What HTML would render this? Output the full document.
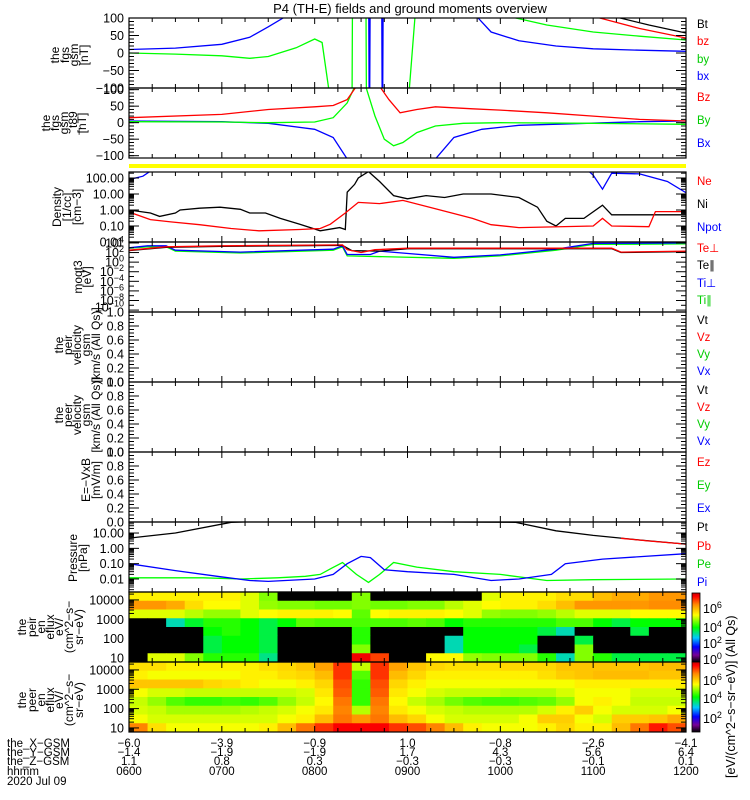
<!DOCTYPE html>
<html><head><meta charset="utf-8">
<style>
html,body{margin:0;padding:0;background:#fff;}
svg{display:block;font-family:"Liberation Sans",sans-serif;}
</style></head>
<body>
<svg id="chart" width="750" height="800" viewBox="0 0 750 800" xmlns="http://www.w3.org/2000/svg">
<defs>
<linearGradient id="cbar" x1="0" y1="1" x2="0" y2="0">
<stop offset="0" stop-color="#000000"/><stop offset="0.1" stop-color="#780096"/>
<stop offset="0.22" stop-color="#0000ff"/><stop offset="0.35" stop-color="#00c8ff"/>
<stop offset="0.5" stop-color="#00ff00"/><stop offset="0.68" stop-color="#ffff00"/>
<stop offset="0.83" stop-color="#ff8c00"/><stop offset="0.95" stop-color="#ff0000"/>
<stop offset="1" stop-color="#c80000"/></linearGradient>
</defs>
<text x="410" y="13" font-size="13" text-anchor="middle">P4 (TH-E) fields and ground moments overview</text>
</svg>
<script>
// ---------- data ----------
const fgsBxT=[6,6.5,7,7.3,7.5,7.66,7.8,8.58,8.59,8.6,8.72,8.73,8.74,9.6,9.76,9.9,10.2,10.6,11,11.5,12];
const fgsBxV=[10,14,25,45,75,100,300,300,-300,300,300,-300,300,300,100,60,35,20,12,8,5];
const fgsByT=[6,6.5,7,7.3,7.5,7.8,8.0,8.08,8.15,8.2,8.4,8.41,8.55,8.56,8.9,9.02,9.08,9.2,9.4,9.55,10,10.5,11,11.5,12];
const fgsByV=[0,-3,-8,-15,-10,15,40,30,-100,-300,-300,300,300,-300,-300,-100,100,300,300,140,110,80,60,48,37];
const fgsBzT=[10.9,11.07,11.5,12];
const fgsBzV=[300,100,70,43];
const fgsBtT=[11.1,11.29,11.6,12];
const fgsBtV=[300,100,80,57];

const t89BzT=[6,7,7.5,8,8.2,8.35,8.45,8.7,8.8,8.92,9.1,9.3,9.7,10,10.5,11,11.5,12];
const t89BzV=[15,25,40,48,52,70,110,110,70,30,40,48,42,38,30,20,10,5];
const t89ByT=[6,7,7.5,8,8.2,8.35,8.45,8.55,8.65,8.75,8.85,8.95,9.1,9.3,9.6,10,11,12];
const t89ByV=[3,2,0,2,15,60,120,110,20,-50,-70,-60,-30,-10,-2,0,-2,-5];
const t89BxT=[6,7,7.5,8,8.2,8.35,8.5,9.15,9.3,9.5,9.8,10.2,10.8,11.5,12];
const t89BxV=[5,3,-2,-20,-45,-110,-200,-200,-110,-45,-20,-8,-3,3,5];

const niT=[6,6.23,6.33,6.5,6.55,6.76,6.98,7.2,7.3,7.47,7.63,7.84,8.06,8.27,8.33,8.35,8.43,8.47,8.58,8.7,8.85,9.0,9.2,9.4,9.6,9.9,10.2,10.4,10.5,10.6,10.7,10.9,11.1,11.2,11.67,12];
const niV=[1,0.65,0.4,0.65,1,1.3,1.5,1.1,0.65,0.65,0.3,0.13,0.05,0.08,0.06,13,40,100,250,60,8,5,8,6,10,10,6,1.5,0.2,0.1,0.3,0.3,2,0.5,0.5,0.5];
const neT=[6,6.23,6.45,6.76,7.1,7.4,7.84,8.06,8.17,8.33,8.47,8.7,8.95,9.3,9.7,9.9,10.2,11.0,11.1,11.2,11.6,11.67,12];
const neV=[0.75,0.25,0.18,0.12,0.07,0.05,0.06,0.07,0.13,0.65,3,2.5,4,1.2,0.3,0.12,0.08,0.1,0.3,0.1,0.09,0.8,0.8];
const npotT=[6,6.15,6.3,10.9,11.0,11.1,11.2,11.5,11.8,12];
const npotV=[80,130,500,500,150,20,200,180,60,12];

const teperpT=[6,6.4,7,8.3,8.35,8.5,8.65,9,11.2,11.3,12];
const teperpV=[2.5,3.2,3.4,3.6,2.6,2.0,2.6,2.9,2.9,2.1,2.3];
const teparT=[6,6.4,7,8.3,8.4,8.7,9,11.2,11.3,12];
const teparV=[2.4,3.1,3.3,3.5,2.4,2.3,2.8,2.8,2.0,2.2];
const tiperpT=[6,6.2,6.4,6.5,7.2,8.2,8.3,8.35,8.6,8.7,9.5,10,10.6,11,12];
const tiperpV=[3.0,3.4,3.4,2.5,2.1,2.7,3.4,1.6,1.6,2.3,1.0,1.5,2.7,3.9,4.0];
const tiparT=[6,6.2,6.4,6.5,7.2,8.2,8.3,8.35,9.5,10,10.6,11,12];
const tiparV=[2.9,3.2,3.2,2.3,1.9,2.5,3.2,1.3,0.8,1.3,2.5,3.7,3.8];

const ptT=[6,6.5,7.1,7.5,10.16,10.6,11,11.5,12];
const ptV=[4.7,10,50,60,50,14,7,3.5,1.9];
const pbT=[11.3,11.6,12];
const pbV=[4.5,3,1.9];
const peT=[6,6.8,7.2,7.6,7.9,8.06,8.18,8.3,8.45,8.58,8.7,8.85,9.1,9.5,10,10.5,11,12];
const peV=[0.012,0.012,0.01,0.012,0.015,0.02,0.05,0.12,0.02,0.006,0.02,0.12,0.06,0.03,0.02,0.008,0.009,0.01];
const piT=[6,6.5,6.95,7.3,7.5,8.0,8.2,8.35,8.5,8.6,8.75,9,9.5,9.9,10.2,10.55,10.7,11.1,12];
const piV=[0.1,0.035,0.015,0.008,0.007,0.01,0.02,0.1,0.3,0.25,0.04,0.03,0.02,0.008,0.01,0.02,0.1,0.2,0.45];

// spectrograms: 30 time bins (12 min) x 8 energy bins (high -> low), log10 eflux
const specStartHour=6, specBinHours=0.2;
const specEnergyLabels=["10000","1000","100","10"];
const ionFlux=[
[5.3,5.3,5.3,5.3,5.3,5.3,5.0,4.5,0.8,0.5,0.5,0.5,4.5,0.8,0.5,0.5,0.5,0.5,0.8,5,5.3,5.3,5.3,5.5,5.5,5.8,6,6,6.2,6.2],
[6.2,6.2,6,5.5,5.2,5.2,5.0,4.6,4.5,4.5,4.4,4.4,4.5,4.4,4.4,4.5,4.5,4.8,5,5.2,5.3,5.3,5.5,5.8,6.2,6.2,6.2,6.2,6.3,6.3],
[5.0,5.0,5.0,4.8,4.6,4.6,5.0,5.2,5.3,5.3,5.3,5.2,4.3,5.2,5.3,5.3,5.3,5.2,5.0,4.6,4.5,4.5,4.6,4.8,5.0,5.0,5.0,5.2,5.2,5.2],
[1.5,2.5,3,3.6,4,4,3.8,3.5,3.8,4.3,4.2,4.2,4.2,4.2,4.2,4.3,4.2,3.8,4,4,4,4,4,4.2,4.2,3.8,3.5,3.8,3.8,3.8],
[0.3,0.3,0.8,1.5,3.8,4,3.8,3.5,0.5,0.3,0.3,0.5,4,0.5,0.3,0.3,0.5,2.5,3.8,3.8,3.8,3.8,3.5,3,2,0.8,2,3.5,2.5,1.5],
[0.3,0.3,0.3,0.8,3.5,3.8,3.8,3.5,0.3,0.3,0.3,0.3,4,0.3,0.3,0.3,0.3,3,3.8,3.8,3.8,3.8,1,0.5,3.5,0.5,0.5,1.5,0.5,1],
[1.5,0.5,0.3,0.5,3.5,3.8,3.8,3.5,0.3,0.3,0.3,0.3,4.5,0.3,0.3,0.3,0.3,3,3.8,3.8,3.8,3.5,0.5,0.5,4.5,2.5,1,2,1,1.5],
[2,5,5,4.5,4,4,4,3.2,0.5,0.5,0.5,0.5,7.3,6.8,0.5,0.5,5.2,5.2,4.6,4.5,4.5,4.5,4,3,4.5,4,3.5,3.5,3.5,3.5]];
const eleFlux=[
[6.2,6.2,6.0,6.0,6.0,6.0,6.0,6.2,6.3,6.5,6.9,7.8,5.5,7.8,6.9,6.5,6.3,6.2,6.2,6.2,6.3,6.3,6.3,6.5,6.5,6.5,6.5,6.5,6.6,6.6],
[6.0,5.8,5.8,5.8,5.8,5.8,6.0,6.0,6.2,6.3,6.6,7.8,4.8,7.8,6.6,6.3,6.0,6.0,6.0,6.0,6.0,6.0,6.2,6.4,6.5,6.6,6.6,6.6,6.5,6.5],
[6.5,6.5,6.5,6.5,6.3,6.2,6.0,5.8,5.8,6.0,6.3,7.6,4.6,7.6,6.3,6.0,5.8,5.8,5.8,5.8,5.8,5.8,5.8,5.8,6.0,6.0,6.0,6.0,6.0,6.0],
[5.8,5.6,5.6,5.5,5.5,5.5,5.5,5.5,5.5,5.6,6.1,7.5,4.6,7.5,6.1,5.8,5.6,5.5,5.5,5.5,5.4,5.4,5.4,5.6,5.8,5.8,5.8,5.6,5.6,5.6],
[5.5,5.2,4.8,4.6,4.6,4.7,4.6,4.8,5.2,5.5,5.9,7.3,4.6,7.3,5.9,5.5,5.3,5.0,4.8,4.7,4.7,4.8,4.9,5.2,5.8,6.0,5.8,5.5,5.5,5.5],
[5.6,5.5,5.3,5.3,5.3,5.3,5.4,5.5,5.6,5.8,6.1,7.2,5.4,7.2,6.1,5.8,5.6,5.5,5.4,5.4,5.4,5.4,5.6,6.0,6.4,5.8,5.6,5.6,5.6,5.8],
[5.8,5.6,5.6,5.6,5.6,5.6,5.6,5.6,5.8,6.0,6.6,7.3,7.0,7.3,6.6,6.3,5.8,5.6,5.6,5.6,5.6,5.8,6.4,6.4,5.8,5.6,6.4,6.4,6.5,6.8],
[7.2,6.2,5.8,5.8,5.8,5.8,5.8,6.0,6.6,7.3,7.8,8.2,8.2,8.2,7.8,7.6,7.2,6.6,6.0,5.8,5.8,5.8,6.0,6.3,6.0,6.0,6.6,7.3,8.0,7.6]];

const hourLabels=["0600","0700","0800","0900","1000","1100","1200"];
const xGsm=["-6.0","-3.9","-0.9","1.0","-0.8","-2.6","-4.1"];
const yGsm=["-1.4","-1.9","-1.9","1.7","4.3","5.6","6.4"];
const zGsm=["1.1","0.8","0.3","-0.3","-0.3","-0.1","0.1"];

// ---------- layout ----------
const NS='http://www.w3.org/2000/svg';
const svg=document.getElementById('chart');
const X0=129,X1=686,H0=6,H1=12;
function xs(h){return X0+(h-H0)/(H1-H0)*(X1-X0);}
function mk(tag,attrs,parent){const e=document.createElementNS(NS,tag);for(const k in attrs)e.setAttribute(k,attrs[k]);(parent||svg).appendChild(e);return e;}
const P={
 fgs:{t:18,b:88,log:false,min:-100,max:100},
 t89:{t:88,b:158,log:false,min:-107,max:105},
 dens:{t:172,b:242,log:true,min:-2,max:2.375},
 moqt:{t:242,b:312,log:false,min:-10.4,max:4.2},
 vi:{t:312,b:382,log:false,min:0,max:1},
 ve:{t:382,b:452,log:false,min:0,max:1},
 ef:{t:452,b:522,log:false,min:0,max:1},
 pres:{t:522,b:592,log:true,min:-2.85,max:1.72},
 si:{t:592,b:662,log:true,min:0.79,max:4.41},
 se:{t:662,b:732,log:true,min:0.79,max:4.41}};
function ys(p,v){const u=p.log?Math.log10(v):v;return p.b-(u-p.min)/(p.max-p.min)*(p.b-p.t);}

const defs=svg.querySelector('defs');
for(const k in P){const p=P[k];const cp=mk('clipPath',{id:'clip-'+k},defs);mk('rect',{x:X0,y:p.t,width:X1-X0,height:p.b-p.t},cp);}

// spectrogram colors
const cstops=[[0,0,0,0],[0.1,120,0,150],[0.22,0,0,255],[0.35,0,200,255],[0.5,0,255,0],[0.68,255,255,0],[0.83,255,140,0],[0.95,255,0,0],[1,200,0,0]];
function cmap(v,vmax){if(v<3)return '#000';let t=Math.max(0,Math.min(1,v/vmax));for(let i=1;i<cstops.length;i++){if(t<=cstops[i][0]){const a=cstops[i-1],b=cstops[i];const f=(t-a[0])/(b[0]-a[0]);return 'rgb('+[1,2,3].map(j=>Math.round(a[j]+f*(b[j]-a[j]))).join(',')+')';}}return 'rgb(200,0,0)';}
function drawSpec(key,grid,name,vmax){const p=P[key];const g=mk('g',{});
 
 
 const nr=grid.length;const rh=(p.b-p.t)/nr;
 grid.forEach((row,r)=>row.forEach((v,c)=>{const xa=xs(specStartHour+c*specBinHours),xb=xs(specStartHour+(c+1)*specBinHours);
  const cell=mk('rect',{x:xa.toFixed(2),y:(p.t+r*rh).toFixed(2),width:(xb-xa+0.4).toFixed(2),height:(rh+0.4).toFixed(2),fill:cmap(v,vmax)},g);
  
  }));}
drawSpec('si',ionFlux,'ion-energy-spectrogram',7.6);
drawSpec('se',eleFlux,'electron-energy-spectrogram',8.6);

// yellow bar
const yb=mk('rect',{x:X0,y:164,width:X1-X0,height:4,fill:'#ffff00'});



// series
function line(key,T,V,color,name){const p=P[key];
 const pts=T.map((t,i)=>xs(t).toFixed(1)+','+ys(p,V[i]).toFixed(1)).join(' ');
 const pl=mk('polyline',{points:pts,fill:'none',stroke:color,'stroke-width':1.3,'clip-path':'url(#clip-'+key+')'});
 
 }
line('fgs',fgsByT,fgsByV,'#00ff00','fgs-by-line');
line('fgs',fgsBxT,fgsBxV,'#0000ff','fgs-bx-line');
line('fgs',fgsBzT,fgsBzV,'#ff0000','fgs-bz-line');
line('fgs',fgsBtT,fgsBtV,'#000000','fgs-bt-line');
line('t89',t89BxT,t89BxV,'#0000ff','t89-bx-line');
line('t89',t89ByT,t89ByV,'#00ff00','t89-by-line');
line('t89',t89BzT,t89BzV,'#ff0000','t89-bz-line');
line('dens',npotT,npotV,'#0000ff','npot-line');
line('dens',niT,niV,'#000000','ni-line');
line('dens',neT,neV,'#ff0000','ne-line');
line('moqt',tiparT,tiparV,'#00ff00','ti-par-line');
line('moqt',tiperpT,tiperpV,'#0000ff','ti-perp-line');
line('moqt',teparT,teparV,'#000000','te-par-line');
line('moqt',teperpT,teperpV,'#ff0000','te-perp-line');
line('pres',peT,peV,'#00ff00','pe-line');
line('pres',piT,piV,'#0000ff','pi-line');
line('pres',ptT,ptV,'#000000','pt-line');
line('pres',pbT,pbV,'#ff0000','pb-line');

// frames, ticks
function tk(x1,y1,x2,y2){const l=mk('line',{x1:x1,y1:y1,x2:x2,y2:y2,stroke:'#000','stroke-width':1});
 
 }
function ylab(y,txt,sup,name){const t=mk('text',{x:124,y:y+4.5,'font-size':12.5,'text-anchor':'end'});
 
 
 if(sup!==undefined&&sup!==null){t.textContent='10';const s=mk('tspan',{dy:-5,'font-size':9},t);s.textContent=sup;}else t.textContent=txt;}
for(const k in P){const p=P[k];
 const fr=mk('rect',{x:X0,y:p.t,width:X1-X0,height:p.b-p.t,fill:'none',stroke:'#000','stroke-width':1.2});
 
 
 for(let i=0;i<=24;i++){const x=xs(6+i*0.25);const L=(i%4===0)?6:4;tk(x,p.t,x,p.t+L);tk(x,p.b,x,p.b-L);}}
function linTicks(key,majors,minorStep,fmt){const p=P[key];
 const lo=Math.ceil(p.min/minorStep-1e-9),hi=Math.floor(p.max/minorStep+1e-9);
 for(let i=lo;i<=hi;i++){const y=ys(p,i*minorStep);tk(X0,y,X0+5,y);tk(X1,y,X1-5,y);}
 majors.forEach(v=>{const y=ys(p,v);tk(X0,y,X0+10,y);tk(X1,y,X1-10,y);ylab(y,fmt(v),undefined,'y-tick-label');});}
function logTicks(key,majors,labels){const p=P[key];
 for(let d=Math.floor(p.min);d<=Math.ceil(p.max);d++){for(let m=1;m<10;m++){const l=d+Math.log10(m);if(l<p.min||l>p.max)continue;const y=ys(p,Math.pow(10,l));const L=m===1?10:5;tk(X0,y,X0+L,y);tk(X1,y,X1-L,y);}}
 majors.forEach((v,i)=>ylab(ys(p,Math.pow(10,v)),labels[i],undefined,'y-tick-label'));}
const f0=v=>String(v).replace('-','\u2212');
linTicks('fgs',[100,50,0,-50,-100],10,f0);
linTicks('t89',[100,50,0,-50,-100],10,f0);
logTicks('dens',[2,1,0,-1,-2],["100.00","10.00","1.00","0.10","0.01"]);
{const p=P.moqt;for(let d=-10;d<=4;d++){const y=ys(p,d);tk(X0,y,X0+(d%2===0?10:5),y);tk(X1,y,X1-(d%2===0?10:5),y);}
 [4,2,0,-2,-4,-6,-8,-10].forEach(d=>ylab(ys(p,d)+(d===-10?-3:0),null,String(d).replace('-','\u2212'),'y-tick-label'));}
['vi','ve','ef'].forEach(k=>linTicks(k,[0,0.2,0.4,0.6,0.8,1.0],0.05,v=>v.toFixed(1)));
logTicks('pres',[1,0,-1,-2],["10.00","1.00","0.10","0.01"]);
logTicks('si',[4,3,2,1],specEnergyLabels);
logTicks('se',[4,3,2,1],specEnergyLabels);

// left titles
function vlabel(lines,xs0,yc,name){lines.forEach((s,i)=>{const t=mk('text',{transform:'translate('+xs0[i]+','+yc+') rotate(-90)','font-size':12,'text-anchor':'middle'});
 
 
 t.textContent=s;});}
vlabel(['the','fgs','gsm','[nT]'],[59,69,78,88],55,'fgs-axis-title');
vlabel(['the','fgs','gsm','_t89','[nT]'],[50,59,68,77,86],123,'t89-axis-title');
vlabel(['Density','[1/cc]','[cm\u22123]'],[61,71,81],207,'density-axis-title');
vlabel(['moqt3','[eV]'],[82,91],277,'temperature-axis-title');
vlabel(['the','peir','velocity','gsm','[km/s (All Qs)]'],[63,72,81,90,100],345,'ion-velocity-axis-title');
vlabel(['the','peer','velocity','gsm','[km/s (All Qs)]'],[63,72,81,90,100],415,'electron-velocity-axis-title');
vlabel(['E=\u2212VxB','[mV/m]'],[90,100],480,'efield-axis-title');
vlabel(['Pressure','[nPa]'],[77,87],558,'pressure-axis-title');
vlabel(['the','peir','en','eflux','eV/','(cm^2\u2212s\u2212','sr\u2212eV)'],[26,36,45,54,63,73,83],627,'ion-spec-axis-title');
vlabel(['the','peer','en','eflux','eV/','(cm^2\u2212s\u2212','sr\u2212eV)'],[26,36,45,54,63,73,83],700,'electron-spec-axis-title');

// right legends
function leg(txt,y,color,name){const t=mk('text',{x:697,y:y+4,'font-size':11.5,fill:color});
 
 
 t.textContent=txt;}
leg('Bt',24,'#000','legend-bt');leg('bz',41,'#f00','legend-bz');leg('by',59,'#0c0','legend-by');leg('bx',76,'#00f','legend-bx');
leg('Bz',97,'#f00','legend-t89-bz');leg('By',120,'#0c0','legend-t89-by');leg('Bx',143,'#00f','legend-t89-bx');
leg('Ne',181,'#f00','legend-ne');leg('Ni',204,'#000','legend-ni');leg('Npot',227,'#00f','legend-npot');
leg('Te\u22a5',248,'#f00','legend-te-perp');leg('Te\u2225',265,'#000','legend-te-par');leg('Ti\u22a5',283,'#00f','legend-ti-perp');leg('Ti\u2225',300,'#0c0','legend-ti-par');
[[312,'vi'],[382,'ve']].forEach(([t0,k])=>{leg('Vt',t0+8,'#000','legend-'+k+'-vt');leg('Vz',t0+25,'#f00','legend-'+k+'-vz');leg('Vy',t0+42,'#0c0','legend-'+k+'-vy');leg('Vx',t0+59,'#00f','legend-'+k+'-vx');});
leg('Ez',462,'#f00','legend-ez');leg('Ey',485,'#0c0','legend-ey');leg('Ex',508,'#00f','legend-ex');
leg('Pt',527,'#000','legend-pt');leg('Pb',546,'#f00','legend-pb');leg('Pe',564,'#0c0','legend-pe');leg('Pi',582,'#00f','legend-pi');

// colorbars
[[593,662,[[659,'0'],[643,'2'],[627,'4'],[608,'6']],'ion-colorbar'],[662,732,[[718,'2'],[698,'4'],[680,'6']],'electron-colorbar']].forEach(([t0,b0,labs,name])=>{
 const r=mk('rect',{x:692,y:t0,width:8,height:b0-t0,fill:'url(#cbar)',stroke:'#000','stroke-width':0.8});
 
 
 labs.forEach(([y,s])=>{const t=mk('text',{x:703,y:y+5,'font-size':12.5});
  
  
  t.textContent='10';const sp=mk('tspan',{dy:-5,'font-size':9},t);sp.textContent=s;});});
{const t=mk('text',{transform:'translate(735,778) rotate(-90)','font-size':12.5});
 
 
 t.textContent='[eV/(cm^2\u2212s\u2212sr\u2212eV)] (All Qs)';}

// bottom axis labels
const rowsY=[747,756,765,775];
const rowNames=['the_X\u2212GSM','the_Y\u2212GSM','the_Z\u2212GSM','hhmm'];
const rowVals=[xGsm,yGsm,zGsm,hourLabels];
rowNames.forEach((n,i)=>{const t=mk('text',{x:7,y:rowsY[i],'font-size':11.5});
 
 
 t.textContent=n;
 rowVals[i].forEach((v,j)=>{const tt=mk('text',{x:xs(6+j),y:rowsY[i],'font-size':11.5,'text-anchor':'middle'});
  
  
  tt.textContent=v.replace('-','\u2212');});});
{const t=mk('text',{x:7,y:785,'font-size':11.5});
 
 
 t.textContent='2020 Jul 09';}
</script>
</body></html>
